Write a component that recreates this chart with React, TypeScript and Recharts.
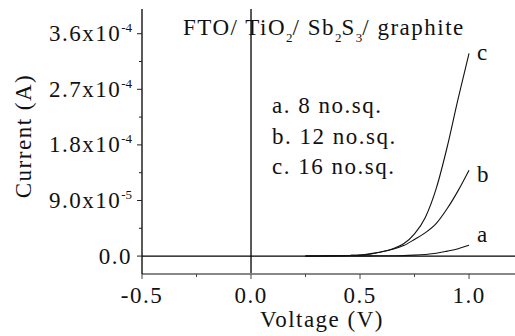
import { LabelList, Line, LineChart, ReferenceLine, XAxis, YAxis } from 'recharts'

// I-V data (current in A)
const voltage = [0.25, 0.3, 0.35, 0.4, 0.45, 0.5, 0.55, 0.6, 0.65, 0.7, 0.75, 0.8, 0.85, 0.9, 0.95, 1.0]
const currentA = [0, 0, 0.1e-6, 0.15e-6, 0.2e-6, 0.3e-6, 0.4e-6, 0.5e-6, 0.6e-6, 0.8e-6, 1.5e-6, 2.6e-6, 4.5e-6, 8e-6, 12e-6, 17.5e-6]
const currentB = [0, 0.2e-6, 0.4e-6, 0.7e-6, 1.0e-6, 1.5e-6, 4e-6, 7e-6, 11e-6, 17e-6, 27e-6, 38e-6, 53e-6, 77e-6, 106e-6, 139e-6]
const currentC = [0, 0.2e-6, 0.4e-6, 0.7e-6, 1.0e-6, 1.5e-6, 3.5e-6, 7e-6, 12e-6, 20e-6, 36e-6, 63e-6, 110e-6, 177e-6, 255e-6, 328e-6]

const xTicks = [-0.5, -0.25, 0, 0.25, 0.5, 0.75, 1.0]
const xTickLabels = ['-0.5', '', '0.0', '', '0.5', '', '1.0']
const yTicks = [0, 4.5e-5, 9e-5, 1.35e-4, 1.8e-4, 2.25e-4, 2.7e-4, 3.15e-4, 3.6e-4]
const yTickLabels = ['0.0', '', '9.0x10^-5', '', '1.8x10^-4', '', '2.7x10^-4', '', '3.6x10^-4']

const legendLines = ['a. 8 no.sq.', 'b. 12 no.sq.', 'c. 16 no.sq.']

const data = voltage.map((v, i) => ({ v, a: currentA[i], b: currentB[i], c: currentC[i] }))

const FONT = '"Liberation Serif", "Times New Roman", serif'
const FS = 23
const LS = 1.5
const TICK_SIZE = 5
const TICK_MARGIN = 5

function YTick(props: { x?: number; y?: number; payload?: { value?: number }; index?: number }) {
  const x = props.x ?? 0
  const y = props.y ?? 0
  const idx = yTicks.indexOf(props.payload?.value as number)
  const label = idx >= 0 ? yTickLabels[idx] : ''
  const axisX = x + TICK_SIZE + TICK_MARGIN
  const [base, exp] = label.split('^')
  return (
    <g>
      <line x1={axisX - (label ? 5 : 3)} x2={axisX} y1={y} y2={y} stroke="#222" strokeWidth={1} />
      {label && (
        <text x={axisX - 10} y={y + 7.5} textAnchor="end" fill="#111" fontSize={FS} letterSpacing={LS} fontFamily={FONT}>
          {base}
          {exp && (
            <tspan dy={-9} fontSize={13} letterSpacing={0}>
              {exp}
            </tspan>
          )}
        </text>
      )}
    </g>
  )
}

function XTick(props: { x?: number; y?: number; payload?: { value?: number } }) {
  const x = props.x ?? 0
  const y = props.y ?? 0
  const idx = xTicks.indexOf(props.payload?.value as number)
  const label = idx >= 0 ? xTickLabels[idx] : ''
  const axisY = y - TICK_SIZE - TICK_MARGIN
  return (
    <g>
      <line x1={x} x2={x} y1={axisY} y2={axisY + (label ? 5 : 3)} stroke="#444" strokeWidth={1} />
      {label && (
        <text x={x} y={axisY + 29} textAnchor="middle" fill="#111" fontSize={FS} letterSpacing={LS} fontFamily={FONT}>
          {label}
        </text>
      )}
    </g>
  )
}

function endLabel(name: string, dy: number) {
  return (p: { x?: number | string; y?: number | string; index?: number }) =>
    p.index === data.length - 1 ? (
      <text x={Number(p.x) + 8} y={Number(p.y) + dy} fill="#111" fontSize={FS} fontFamily={FONT}>
        {name}
      </text>
    ) : null
}

export default function App() {
  return (
    <div style={{ position: 'fixed', left: 0, top: 0, width: 515, height: 336, overflow: 'hidden', background: '#fff' }}>
      <LineChart width={530} height={336} data={data} margin={{ top: 9, right: 13, bottom: 0, left: 0 }}>
        <XAxis
          dataKey="v"
          type="number"
          domain={[-0.5, 1.22]}
          ticks={xTicks}
          allowDataOverflow
          height={62}
          axisLine={{ stroke: '#888', strokeWidth: 2 }}
          tickLine={false}
          tickSize={TICK_SIZE}
          tickMargin={TICK_MARGIN}
          tick={<XTick />}
        />
        <XAxis
          xAxisId="top"
          orientation="top"
          dataKey="v"
          type="number"
          domain={[-0.5, 1.22]}
          height={0}
          tick={false}
          tickLine={false}
          axisLine={{ stroke: '#000', strokeWidth: 1.2 }}
        />
        <YAxis
          type="number"
          domain={[-2.9e-5, 4.0e-4]}
          ticks={yTicks}
          allowDataOverflow
          width={142}
          axisLine={{ stroke: '#000', strokeWidth: 1.3 }}
          tickLine={false}
          tickSize={TICK_SIZE}
          tickMargin={TICK_MARGIN}
          tick={<YTick />}
        />
        <ReferenceLine y={0} stroke="#000" strokeWidth={1.2} />
        <ReferenceLine x={0} stroke="#000" strokeWidth={1.3} />
        <Line type="monotone" dataKey="a" stroke="#111" strokeWidth={1.1} dot={false} isAnimationActive={false}>
          <LabelList dataKey="a" content={endLabel('a', -3)} />
        </Line>
        <Line type="monotone" dataKey="b" stroke="#111" strokeWidth={1.1} dot={false} isAnimationActive={false}>
          <LabelList dataKey="b" content={endLabel('b', 12)} />
        </Line>
        <Line type="monotone" dataKey="c" stroke="#111" strokeWidth={1.1} dot={false} isAnimationActive={false}>
          <LabelList dataKey="c" content={endLabel('c', 7)} />
        </Line>
      </LineChart>
      <svg width={515} height={336} style={{ position: 'absolute', left: 0, top: 0, pointerEvents: 'none' }}>
        <text x={183} y={35} fill="#111" fontSize={FS} letterSpacing={LS} fontFamily={FONT}>
          FTO/ TiO
          <tspan dy={7} fontSize={13} letterSpacing={0}>2</tspan>
          <tspan dy={-7}>/ Sb</tspan>
          <tspan dy={7} fontSize={13} letterSpacing={0}>2</tspan>
          <tspan dy={-7}>S</tspan>
          <tspan dy={7} fontSize={13} letterSpacing={0}>3</tspan>
          <tspan dy={-7}>/ graphite</tspan>
        </text>
        {legendLines.map((t, i) => (
          <text key={t} x={272} y={113 + i * 30.5} fill="#111" fontSize={FS} letterSpacing={LS} fontFamily={FONT}>
            {t}
          </text>
        ))}
        <text x={322} y={327} textAnchor="middle" fill="#111" fontSize={FS} letterSpacing={LS} fontFamily={FONT}>
          Voltage (V)
        </text>
        <text
          x={0}
          y={0}
          transform="translate(31,136) rotate(-90)"
          textAnchor="middle"
          fill="#111"
          fontSize={FS}
          letterSpacing={LS}
          fontFamily={FONT}
        >
          Current (A)
        </text>
      </svg>
    </div>
  )
}
